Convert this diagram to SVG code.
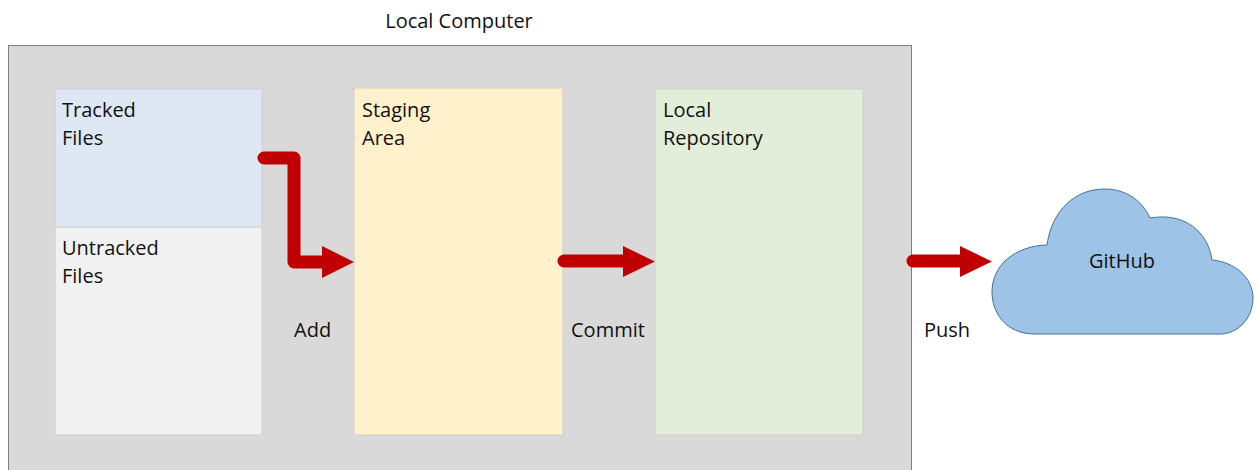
<svg xmlns="http://www.w3.org/2000/svg" width="1259" height="470" viewBox="0 0 1259 470">
  <style>
    .lbl { font-family: "Open Sans", "Liberation Sans", sans-serif; font-size: 20px; fill: #111; }
    .area { stroke: #cfcfcf; stroke-width: 1; }
    .flow { fill: none; stroke: #c00000; stroke-width: 13; stroke-linecap: round; stroke-linejoin: round; }
    .head { fill: #c00000; }
  </style>

  <rect width="1259" height="470" fill="#ffffff"/>

  <g id="local-computer">
    <rect x="8.5" y="45.5" width="903" height="440" fill="#d9d9d9" stroke="#7f7f7f" stroke-width="1"/>
    <text class="lbl" x="459" y="28" text-anchor="middle">Local Computer</text>
  </g>

  <g id="tracked-files">
    <rect class="area" x="55" y="89" width="207" height="138" fill="#dde8f4"/>
    <text class="lbl" x="62" y="117">Tracked</text>
    <text class="lbl" x="62" y="145">Files</text>
  </g>

  <g id="untracked-files">
    <rect class="area" x="55" y="227" width="207" height="208" fill="#f1f1f1"/>
    <text class="lbl" x="62" y="255">Untracked</text>
    <text class="lbl" x="62" y="283">Files</text>
  </g>

  <g id="staging-area">
    <rect class="area" x="354" y="88" width="209" height="347" fill="#fff1cc"/>
    <text class="lbl" x="362" y="117">Staging</text>
    <text class="lbl" x="362" y="145">Area</text>
  </g>

  <g id="local-repository">
    <rect class="area" x="655" y="89" width="208" height="346" fill="#e2eed9"/>
    <text class="lbl" x="663" y="117">Local</text>
    <text class="lbl" x="663" y="145">Repository</text>
  </g>

  <g id="github">
    <path d="M1035,334 C1005,334 992,312 992,292 C992,265 1015,246 1047,245 C1052,210 1075,189 1105,189 C1125,189 1142,200 1150,218 C1185,212 1208,232 1212,260 C1235,262 1253,278 1253,298 C1253,318 1238,334 1220,334 Z" fill="#9dc3e6" stroke="#41719c" stroke-width="1"/>
    <text class="lbl" x="1122" y="268" text-anchor="middle">GitHub</text>
  </g>

  <g id="connectors">
    <!-- add: tracked files to staging area -->
    <polyline class="flow" points="264,158 294,158 294,262 324,262"/>
    <polygon class="head" points="322,246 354,262 322,278"/>
    <text class="lbl" x="294" y="337">Add</text>

    <!-- commit: staging area to local repository -->
    <line class="flow" x1="564" y1="261" x2="625" y2="261"/>
    <polygon class="head" points="623,246 655,261.5 623,277"/>
    <text class="lbl" x="571" y="337">Commit</text>

    <!-- push: local repository to GitHub -->
    <line class="flow" x1="913" y1="261" x2="962" y2="261"/>
    <polygon class="head" points="960,246 992,261.5 960,277"/>
    <text class="lbl" x="924" y="337">Push</text>
  </g>
</svg>
